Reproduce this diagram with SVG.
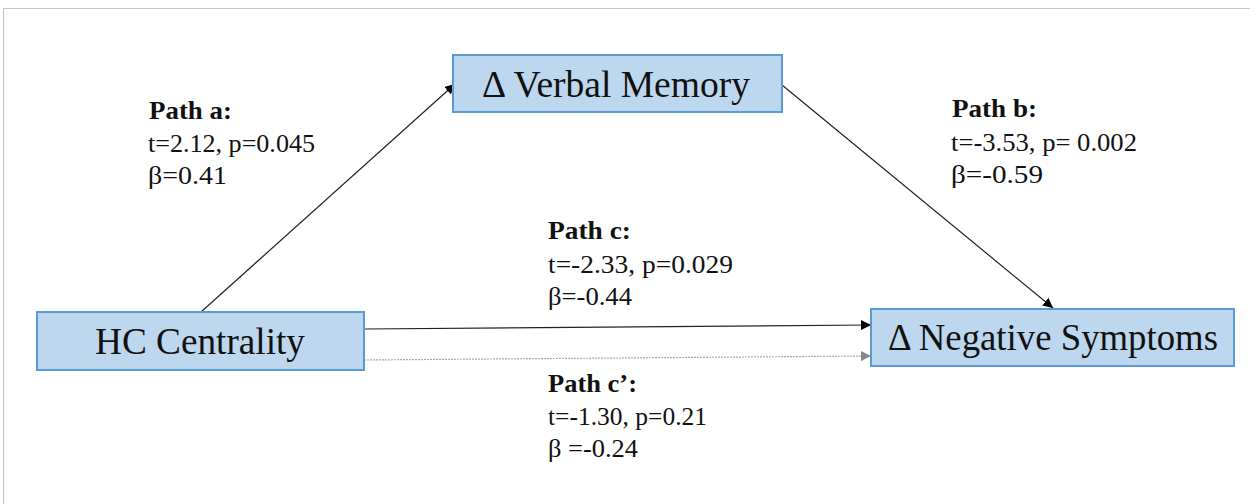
<svg xmlns="http://www.w3.org/2000/svg" width="1250" height="504" viewBox="0 0 1250 504">
<style>
.box{fill:#BDD7EE;stroke:#5B9BD5;stroke-width:2}
.nt{font-family:"Liberation Serif",serif;font-size:37px;fill:#111}
.lb{font-family:"Liberation Serif",serif;font-size:25px;fill:#111}
.hd{font-weight:bold}
.ln{stroke:#222;stroke-width:1.2;fill:none}
</style>
<defs>
<marker id="ah" viewBox="0 0 10 10" refX="10" refY="5" markerWidth="10" markerHeight="10" markerUnits="userSpaceOnUse" orient="auto"><path d="M0,0 L10,5 L0,10 z" fill="#000"/></marker>
<marker id="ahg" viewBox="0 0 10 10" refX="10" refY="5" markerWidth="10" markerHeight="10" markerUnits="userSpaceOnUse" orient="auto"><path d="M0,0 L10,5 L0,10 z" fill="#888"/></marker>
</defs>
<rect width="1250" height="504" fill="#fff"/>
<path d="M3.5,504 V8.5 H1250" fill="none" stroke="#c4c4c4" stroke-width="1"/>
<g id="connectors">
<line class="ln" x1="201" y1="312" x2="455" y2="84" marker-end="url(#ah)"/>
<line class="ln" x1="782" y1="85" x2="1053" y2="308" marker-end="url(#ah)"/>
<line class="ln" x1="364" y1="329" x2="871" y2="325" stroke="#111" marker-end="url(#ah)"/>
<line x1="364" y1="360" x2="871" y2="356" stroke="#aaa" stroke-width="1.2" stroke-dasharray="2,1" marker-end="url(#ahg)"/>
</g>
<g id="verbal-memory">
<rect class="box" x="453" y="55" width="329" height="57"/>
<text class="nt" x="482" y="97" textLength="268" lengthAdjust="spacingAndGlyphs">Δ Verbal Memory</text>
</g>
<g id="hc-centrality">
<rect class="box" x="37" y="312" width="327" height="58"/>
<text class="nt" x="95" y="354" textLength="210" lengthAdjust="spacingAndGlyphs">HC Centrality</text>
</g>
<g id="negative-symptoms">
<rect class="box" x="871" y="309" width="363" height="57"/>
<text class="nt" x="888" y="350" textLength="330" lengthAdjust="spacingAndGlyphs">Δ Negative Symptoms</text>
</g>
<g id="label-a" class="lb">
<text x="149" y="119" class="hd" textLength="83" lengthAdjust="spacingAndGlyphs">Path a:</text>
<text x="148" y="152" textLength="167" lengthAdjust="spacingAndGlyphs">t=2.12, p=0.045</text>
<text x="148" y="184" textLength="79" lengthAdjust="spacingAndGlyphs">β=0.41</text>
</g>
<g id="label-b" class="lb">
<text x="952" y="117" class="hd" textLength="85" lengthAdjust="spacingAndGlyphs">Path b:</text>
<text x="951" y="151" textLength="186" lengthAdjust="spacingAndGlyphs">t=-3.53, p= 0.002</text>
<text x="951" y="183" textLength="92" lengthAdjust="spacingAndGlyphs">β=-0.59</text>
</g>
<g id="label-c" class="lb">
<text x="548" y="239" class="hd" textLength="83" lengthAdjust="spacingAndGlyphs">Path c:</text>
<text x="548" y="273" textLength="185" lengthAdjust="spacingAndGlyphs">t=-2.33, p=0.029</text>
<text x="548" y="305" textLength="84" lengthAdjust="spacingAndGlyphs">β=-0.44</text>
</g>
<g id="label-c-prime" class="lb">
<text x="548" y="392" class="hd" textLength="89" lengthAdjust="spacingAndGlyphs">Path c’:</text>
<text x="548" y="425" textLength="159" lengthAdjust="spacingAndGlyphs">t=-1.30, p=0.21</text>
<text x="548" y="457" textLength="90" lengthAdjust="spacingAndGlyphs">β =-0.24</text>
</g>
</svg>
